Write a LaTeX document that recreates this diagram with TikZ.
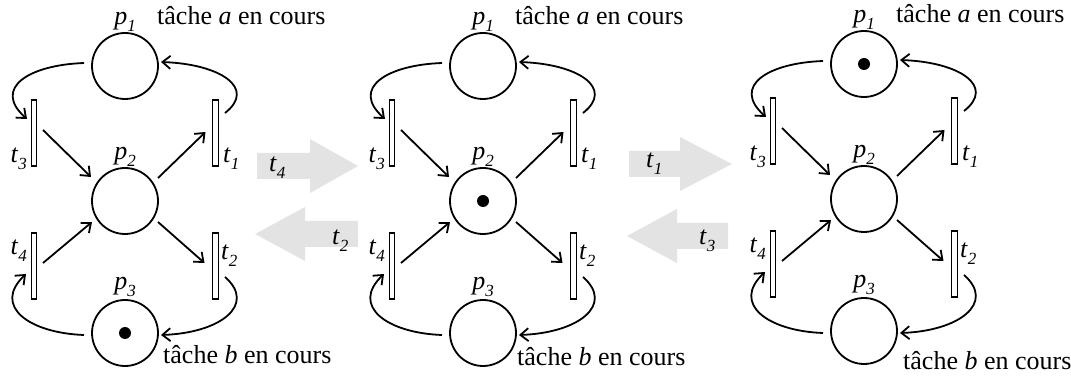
\documentclass[tikz,border=0pt]{standalone}
\usepackage{fontspec}
\setmainfont{Liberation Serif}
\usetikzlibrary{arrows.meta,calc}
\newcommand\sublab[2]{\textit{#1}\raisebox{-0.25em}{\fontsize{17}{17}\selectfont\textit{#2}}}
\tikzset{
  place/.style={circle,draw,line width=1.8pt,minimum size=66pt,inner sep=0pt},
  trans/.style={rectangle,draw,line width=1.3pt,minimum width=5.5pt,minimum height=66pt,inner sep=0pt},
  arc/.style={line width=1.8pt,-{Straight Barb[length=8pt,width=13pt]}},
  lab/.style={font=\fontsize{26}{30}\selectfont,inner sep=0pt},
  big/.style={fill=black!11},
  token/.style={fill=black},
}
\newcommand\petri[5]{%
  \node[place] (#1p1) at ({125+#2},{66+#3}) {};
  \node[place] (#1p2) at ({125+#2},{201+#3}) {};
  \node[place] (#1p3) at ({125+#2},{333+#3}) {};
  \node[trans] (#1t3) at ({34+#2},{133+#3}) {};
  \node[trans] (#1t1) at ({215.5+#2},{133+#3}) {};
  \node[trans] (#1t4) at ({34+#2},{266+#3}) {};
  \node[trans] (#1t2) at ({215.5+#2},{266+#3}) {};
  \node[lab,anchor=base] (#1lp1) at ({125+#2},{25+#3}) {\sublab{p}{1}};
  \node[lab,anchor=base west] (#1ta) at ({157+#2},{25+#3}) {tâche \textit{a} en cours};
  \node[lab,anchor=base] (#1lp2) at ({125+#2},{160+#3}) {\sublab{p}{2}};
  \node[lab,anchor=base] (#1lp3) at ({125+#2},{290+#3}) {\sublab{p}{3}};
  \node[lab,anchor=base east] (#1lt3) at ({27+#2},{163+#3}) {\sublab{t}{3}};
  \node[lab,anchor=base west] (#1lt1) at ({223+#2},{163+#3}) {\sublab{t}{1}};
  \node[lab,anchor=base east] (#1lt4) at ({27+#2},{255+#3}) {\sublab{t}{4}};
  \node[lab,anchor=base west] (#1lt2) at ({221+#2},{260+#3}) {\sublab{t}{2}};
  \node[lab,anchor=base west] (#1tb) at (#4,#5) {tâche \textit{b} en cours};
  \draw[arc] ($(#1p1)+(-41,-3)$) .. controls ($(#1p1)+(-96,-1)$) and ($(#1t3)+(-42,-45)$) .. ($(#1t3)+(-7,-14)$);
  \draw[arc] ($(#1t1)+(9.5,-20)$) .. controls ($(#1t1)+(41.5,-45)$) and ($(#1p1)+(95,-2)$) .. ($(#1p1)+(36,-4)$);
  \draw[arc] ($(#1t3)+(9,-3)$) -- ($(#1p2)+(-34,-24)$);
  \draw[arc] ($(#1p2)+(33,-23)$) -- ($(#1t1)+(-10,-1)$);
  \draw[arc] ($(#1t4)+(9,-3)$) -- ($(#1p2)+(-33,21)$);
  \draw[arc] ($(#1p2)+(33,21)$) -- ($(#1t2)+(-11,-3)$);
  \draw[arc] ($(#1t2)+(9.5,11)$) .. controls ($(#1t2)+(41.5,39)$) and ($(#1p3)+(95,0)$) .. ($(#1p3)+(36,2)$);
  \draw[arc] ($(#1p3)+(-41,2)$) .. controls ($(#1p3)+(-96,0)$) and ($(#1t4)+(-42,40)$) .. ($(#1t4)+(-8,8)$);
}
\begin{document}
\begin{tikzpicture}[x=1pt,y=-1pt]
\useasboundingbox (0,0) rectangle (1071,379);
% big grey arrows
\fill[big] (257,153) -- (310,153) -- (310,139) -- (358,166) -- (310,193) -- (310,179) -- (257,179) -- cycle;
\fill[big] (358,221) -- (305,221) -- (305,207) -- (255,234) -- (305,261) -- (305,247) -- (358,247) -- cycle;
\fill[big] (629,151) -- (680,151) -- (680,137) -- (732,164) -- (680,191) -- (680,177) -- (629,177) -- cycle;
\fill[big] (728,223) -- (677,223) -- (677,209) -- (627,236) -- (677,263) -- (677,249) -- (728,249) -- cycle;
\node[lab,anchor=base west] (g1) at (269,172) {\sublab{t}{4}};
\node[lab,anchor=base west] (g2) at (332,245) {\sublab{t}{2}};
\node[lab,anchor=base west] (g3) at (646,168) {\sublab{t}{1}};
\node[lab,anchor=base west] (g4) at (699,245) {\sublab{t}{3}};
% panels
\petri{a}{0}{0}{163}{363}
\petri{b}{358}{0}{517}{366}
\petri{c}{739}{-2}{903}{370}
\fill[token] (ap3) circle (6);
\fill[token] (bp2) circle (6);
\fill[token] (cp1) circle (6);
\end{tikzpicture}
\end{document}
